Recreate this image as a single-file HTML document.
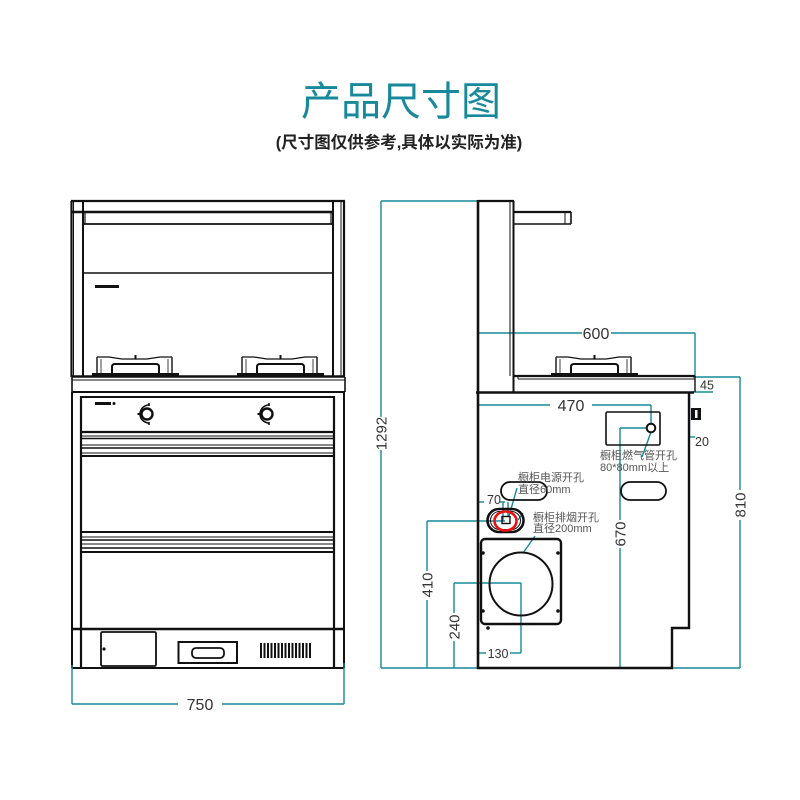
<!DOCTYPE html>
<html><head><meta charset="utf-8"><style>
html,body{margin:0;padding:0;background:#fff;}
svg{display:block;}
.t{font-family:"Liberation Sans","Noto Sans CJK SC",sans-serif;}
</style></head><body>
<svg width="800" height="800" viewBox="0 0 800 800" xmlns="http://www.w3.org/2000/svg">
<rect width="800" height="800" fill="#fff"/>
<text class="t" x="401" y="115" text-anchor="middle" font-size="40" fill="#17899a">产品尺寸图</text>
<text class="t" x="399" y="148" text-anchor="middle" font-size="16.5" font-weight="bold" fill="#222">(尺寸图仅供参考,具体以实际为准)</text>

<!-- ============ FRONT VIEW ============ -->
<g stroke="#111" fill="none" stroke-width="1.6">
  <!-- upper posts -->
  <line x1="71.5" y1="201" x2="71.5" y2="377" stroke-width="2.2"/>
  <line x1="73.5" y1="201" x2="73.5" y2="377" stroke-width="1"/>
  <line x1="83" y1="201" x2="83" y2="377" stroke-width="2"/>
  <line x1="333" y1="201" x2="333" y2="377" stroke-width="2"/>
  <line x1="341" y1="201" x2="341" y2="377" stroke-width="1"/>
  <line x1="344" y1="201" x2="344" y2="377" stroke-width="2.2"/>
  <line x1="71" y1="201" x2="345" y2="201" stroke-width="2.2"/>
  <!-- hood bar -->
  <line x1="72" y1="212" x2="333" y2="212" stroke-width="2.4"/>
  <line x1="83" y1="224" x2="333" y2="224" stroke-width="1.8"/>
  <line x1="85" y1="212" x2="85" y2="224" stroke-width="1.2"/>
  <line x1="331" y1="212" x2="331" y2="224" stroke-width="1.2"/>
  <line x1="83" y1="273" x2="333" y2="273" stroke-width="1.6"/>
  <rect x="95" y="285" width="24" height="3" fill="#111" stroke="none"/>
  <!-- countertop -->
  <line x1="72" y1="376.5" x2="345" y2="376.5" stroke-width="2.4"/>
  <line x1="72" y1="380" x2="345" y2="380" stroke-width="1"/>
  <line x1="72" y1="392" x2="345" y2="392" stroke-width="2"/>
  <line x1="72" y1="377" x2="72" y2="392"/>
  <line x1="345" y1="377" x2="345" y2="392"/>
  <!-- lower posts -->
  <line x1="72" y1="392" x2="72" y2="668" stroke-width="2"/>
  <line x1="81" y1="396" x2="81" y2="668" stroke-width="2.2"/>
  <line x1="334" y1="396" x2="334" y2="668" stroke-width="2.2"/>
  <line x1="344" y1="392" x2="344" y2="668" stroke-width="2"/>
  <!-- knob panel -->
  <line x1="81" y1="397" x2="334" y2="397" stroke-width="2"/>
  <line x1="81" y1="432" x2="334" y2="432" stroke-width="2.2"/>
  <rect x="95" y="402" width="16" height="3" fill="#111" stroke="none"/>
  <circle cx="114" cy="403.5" r="1.5" fill="#111" stroke="none"/>
  <!-- strips 1 -->
  <line x1="81" y1="436" x2="334" y2="436" stroke-width="1"/>
  <line x1="81" y1="438.5" x2="334" y2="438.5" stroke-width="1.6"/>
  <line x1="81" y1="445" x2="334" y2="445" stroke-width="1"/>
  <line x1="81" y1="448" x2="334" y2="448" stroke-width="1.6"/>
  <line x1="81" y1="453" x2="334" y2="453" stroke-width="1"/>
  <line x1="81" y1="456" x2="334" y2="456" stroke-width="2"/>
  <!-- strips 2 -->
  <line x1="81" y1="532" x2="334" y2="532" stroke-width="2"/>
  <line x1="81" y1="537" x2="334" y2="537" stroke-width="1"/>
  <line x1="81" y1="540" x2="334" y2="540" stroke-width="1.6"/>
  <line x1="81" y1="544" x2="334" y2="544" stroke-width="1"/>
  <line x1="81" y1="548" x2="334" y2="548" stroke-width="1.6"/>
  <line x1="81" y1="552" x2="334" y2="552" stroke-width="2"/>
  <!-- kick plate -->
  <line x1="72" y1="629" x2="344" y2="629" stroke-width="2.4"/>
  <line x1="72" y1="668" x2="344" y2="668" stroke-width="2"/>
  <rect x="101" y="632" width="55" height="34" rx="1.5" stroke-width="1.8"/>
  <circle cx="104" cy="649" r="1.6" fill="#111" stroke="none"/>
  <rect x="178.5" y="642" width="58.5" height="21" stroke-width="2"/>
  <rect x="192" y="648" width="32" height="10" rx="4" stroke-width="1.8"/>
</g>
<!-- vent -->
<g fill="#111">
  <rect x="260" y="643" width="2" height="15"/><rect x="263.5" y="643" width="2" height="15"/>
  <rect x="267" y="643" width="2" height="15"/><rect x="270.5" y="643" width="2" height="15"/>
  <rect x="274" y="643" width="2" height="15"/><rect x="277.5" y="643" width="2" height="15"/>
  <rect x="281" y="643" width="2" height="15"/><rect x="284.5" y="643" width="2" height="15"/>
  <rect x="288" y="643" width="2" height="15"/><rect x="291.5" y="643" width="2" height="15"/>
  <rect x="295" y="643" width="2" height="15"/><rect x="298.5" y="643" width="2" height="15"/>
  <rect x="302" y="643" width="2" height="15"/><rect x="305.5" y="643" width="2" height="15"/>
  <rect x="309" y="643" width="2" height="15"/>
</g>
<!-- burners front -->
<defs>
  <g id="burner" stroke="#111" fill="none">
    <rect x="0" y="18" width="87" height="3" fill="#111" stroke="none"/>
    <line x1="5" y1="2" x2="5" y2="18" stroke-width="1.4"/>
    <line x1="80" y1="2" x2="80" y2="18" stroke-width="1.4"/>
    <line x1="9" y1="4" x2="9" y2="18" stroke-width="0.8"/>
    <line x1="76" y1="4" x2="76" y2="18" stroke-width="0.8"/>
    <path d="M5 2 L17 2 L30 4 L55 4 L68 2 L80 2" stroke-width="1.2"/>
    <path d="M20 18 L20 12 Q20 9 23 9 L64 9 Q67 9 67 12 L67 18" stroke-width="2"/>
    <line x1="43.5" y1="0" x2="43.5" y2="4" stroke-width="2"/>
  </g>
  <g id="knob" fill="none" stroke="#111">
    <circle cx="0" cy="0" r="5.5" stroke-width="2.4"/>
    <path d="M2 -9 A9 9 0 1 0 2 9" stroke-width="1.6"/>
    <line x1="2" y1="-11" x2="2" y2="-8" stroke-width="1.6"/>
    <line x1="2" y1="8" x2="2" y2="11" stroke-width="1.6"/>
    <line x1="-9.5" y1="0" x2="-7" y2="0" stroke-width="2"/>
  </g>
</defs>
<use href="#burner" x="92" y="355"/>
<use href="#burner" x="237" y="355"/>
<use href="#knob" x="147" y="414"/>
<use href="#knob" x="267" y="414"/>

<!-- 750 dim -->
<g stroke="#17899a" stroke-width="1.4" fill="none">
  <line x1="72" y1="665" x2="72" y2="704"/>
  <line x1="344" y1="663" x2="344" y2="704"/>
  <line x1="72" y1="704" x2="178" y2="704"/>
  <line x1="222" y1="704" x2="344" y2="704"/>
</g>
<text class="t" x="200" y="710" text-anchor="middle" font-size="16" fill="#333">750</text>

<!-- ============ SIDE VIEW ============ -->
<!-- teal dims -->
<g stroke="#17899a" stroke-width="1.4" fill="none">
  <!-- 1292 -->
  <line x1="381" y1="201" x2="485" y2="201"/>
  <line x1="381" y1="201" x2="381" y2="417"/>
  <line x1="381" y1="450" x2="381" y2="668"/>
  <line x1="381" y1="668" x2="740" y2="668"/>
  <!-- 600 -->
  <line x1="478" y1="333" x2="582" y2="333"/>
  <line x1="611" y1="333" x2="695" y2="333"/>
  <line x1="478" y1="333" x2="478" y2="392"/>
  <line x1="695" y1="333" x2="695" y2="377"/>
  <!-- 45 / 810 -->
  <line x1="693" y1="377" x2="740" y2="377"/>
  <line x1="692" y1="392" x2="713" y2="392"/>
  <line x1="740" y1="377" x2="740" y2="490"/>
  <line x1="740" y1="520" x2="740" y2="668"/>
  <!-- 20 -->
  <line x1="689.5" y1="393" x2="689.5" y2="437"/>
  <line x1="689.5" y1="437" x2="695" y2="437"/>
  <!-- 470 -->
  <line x1="478" y1="405" x2="550" y2="405"/>
  <line x1="592" y1="405" x2="651" y2="405"/>
  <line x1="478" y1="405" x2="478" y2="426"/>
  <line x1="651" y1="405" x2="651" y2="424"/>
  <!-- 670 -->
  <line x1="620" y1="428" x2="647" y2="428"/>
  <line x1="620" y1="428" x2="620" y2="520"/>
  <line x1="620" y1="548" x2="620" y2="668"/>
  <line x1="651" y1="432" x2="642" y2="457"/>
  <!-- 70 / power -->
  <line x1="478" y1="502" x2="484" y2="502"/>
  <line x1="500" y1="502" x2="505" y2="502"/>
  <line x1="478" y1="502" x2="478" y2="521"/>
  <line x1="503" y1="502" x2="503" y2="521"/>
  <line x1="508" y1="502" x2="508" y2="517"/>
  <line x1="517" y1="488" x2="509" y2="516"/>
  <line x1="518" y1="520" x2="523" y2="513"/>
  <!-- 410 -->
  <line x1="427" y1="521" x2="505" y2="521"/>
  <line x1="427" y1="521" x2="427" y2="571"/>
  <line x1="427" y1="600" x2="427" y2="668"/>
  <!-- smoke leader -->
  <line x1="535" y1="536" x2="523" y2="553"/>
  <!-- 240 / 130 -->
  <line x1="454" y1="583" x2="521" y2="583"/>
  <line x1="454" y1="583" x2="454" y2="613"/>
  <line x1="454" y1="641" x2="454" y2="668"/>
  <line x1="521" y1="583" x2="521" y2="653"/>
  <line x1="478" y1="640" x2="478" y2="653"/>
  <line x1="478" y1="653" x2="486" y2="653"/>
  <line x1="510" y1="653" x2="521" y2="653"/>
</g>

<g stroke="#111" fill="none" stroke-width="1.6">
  <!-- column -->
  <line x1="478" y1="200" x2="478" y2="669" stroke-width="2.6"/>
  <line x1="477" y1="201" x2="514" y2="201" stroke-width="2.2"/>
  <line x1="510" y1="201" x2="510" y2="376" stroke-width="1"/>
  <line x1="513.5" y1="201" x2="513.5" y2="392" stroke-width="2"/>
  <!-- hood arm -->
  <line x1="513" y1="212" x2="571" y2="212" stroke-width="2.2"/>
  <line x1="513" y1="224" x2="571" y2="224" stroke-width="1.6"/>
  <line x1="571" y1="212" x2="571" y2="224" stroke-width="1.6"/>
  <line x1="565" y1="212" x2="565" y2="224" stroke-width="1"/>
  <!-- countertop -->
  <line x1="513" y1="376" x2="695" y2="376" stroke-width="2.2"/>
  <line x1="518" y1="379" x2="695" y2="379" stroke-width="1"/>
  <line x1="518" y1="376" x2="518" y2="379" stroke-width="1"/>
  <line x1="695" y1="376" x2="695" y2="392" stroke-width="1.4"/>
  <line x1="476" y1="392.5" x2="694" y2="392.5" stroke-width="2.6"/>
  <!-- body -->
  <polyline points="689,392 689,628 672,628 672,668" stroke-width="2.4"/>
  <line x1="477" y1="668" x2="673" y2="668" stroke-width="2.6"/>
  <!-- bracket -->
  <rect x="691" y="408" width="10" height="12" fill="#111" stroke="none"/>
  <rect x="695" y="410" width="2.5" height="8" fill="#fff" stroke="none"/>
  <!-- gas -->
  <rect x="606" y="412" width="54" height="33" rx="1.5" stroke-width="1.6"/>
  <circle cx="651" cy="428" r="4.3" stroke-width="2"/>
  <!-- ovals -->
  <rect x="501" y="482" width="46" height="18" rx="9" stroke-width="1.8"/>
  <rect x="621" y="482" width="45" height="18" rx="9" stroke-width="1.8"/>
  <!-- power hole -->
  <rect x="487.5" y="509" width="36" height="23" rx="11.5" stroke-width="2.6"/>
  <rect x="490.5" y="511.5" width="30" height="18" rx="9" stroke-width="1"/>
  <rect x="502" y="516.5" width="8" height="7" stroke-width="1.4"/>
  <!-- smoke plate -->
  <rect x="481" y="539" width="80" height="85" rx="4" stroke-width="2.4"/>
  <circle cx="521" cy="584" r="31.5" stroke-width="2"/>
</g>
<ellipse cx="505.5" cy="521" rx="11" ry="9.5" fill="none" stroke="#e11" stroke-width="2.6"/>
<g fill="#111">
  <circle cx="483" cy="553" r="1.8"/><circle cx="558" cy="553" r="1.8"/>
  <circle cx="483" cy="611" r="1.8"/><circle cx="558" cy="611" r="1.8"/>
  <circle cx="488" cy="628" r="1.8"/>
</g>
<use href="#burner" x="551" y="355"/>

<!-- labels -->
<g class="t" fill="#333">
  <text x="596" y="339" text-anchor="middle" font-size="16">600</text>
  <text x="571" y="411" text-anchor="middle" font-size="16">470</text>
  <text x="700" y="389.5" font-size="12.5">45</text>
  <text x="695" y="446" font-size="12.5">20</text>
  <text x="487" y="504" font-size="12.5">70</text>
  <text x="498" y="658" text-anchor="middle" font-size="12.5">130</text>
  <text transform="translate(386.5,433.5) rotate(-90)" text-anchor="middle" font-size="15">1292</text>
  <text transform="translate(745.5,505) rotate(-90)" text-anchor="middle" font-size="15">810</text>
  <text transform="translate(625.5,534) rotate(-90)" text-anchor="middle" font-size="15">670</text>
  <text transform="translate(432.5,585) rotate(-90)" text-anchor="middle" font-size="15">410</text>
  <text transform="translate(459.5,627) rotate(-90)" text-anchor="middle" font-size="15">240</text>
</g>
<g class="t" fill="#555" font-size="11">
  <text x="600" y="459">橱柜燃气管开孔</text>
  <text x="600" y="471">80*80mm以上</text>
  <text x="518" y="481">橱柜电源开孔</text>
  <text x="518" y="493">直径60mm</text>
  <text x="533" y="521">橱柜排烟开孔</text>
  <text x="533" y="532">直径200mm</text>
</g>
</svg>
</body></html>
